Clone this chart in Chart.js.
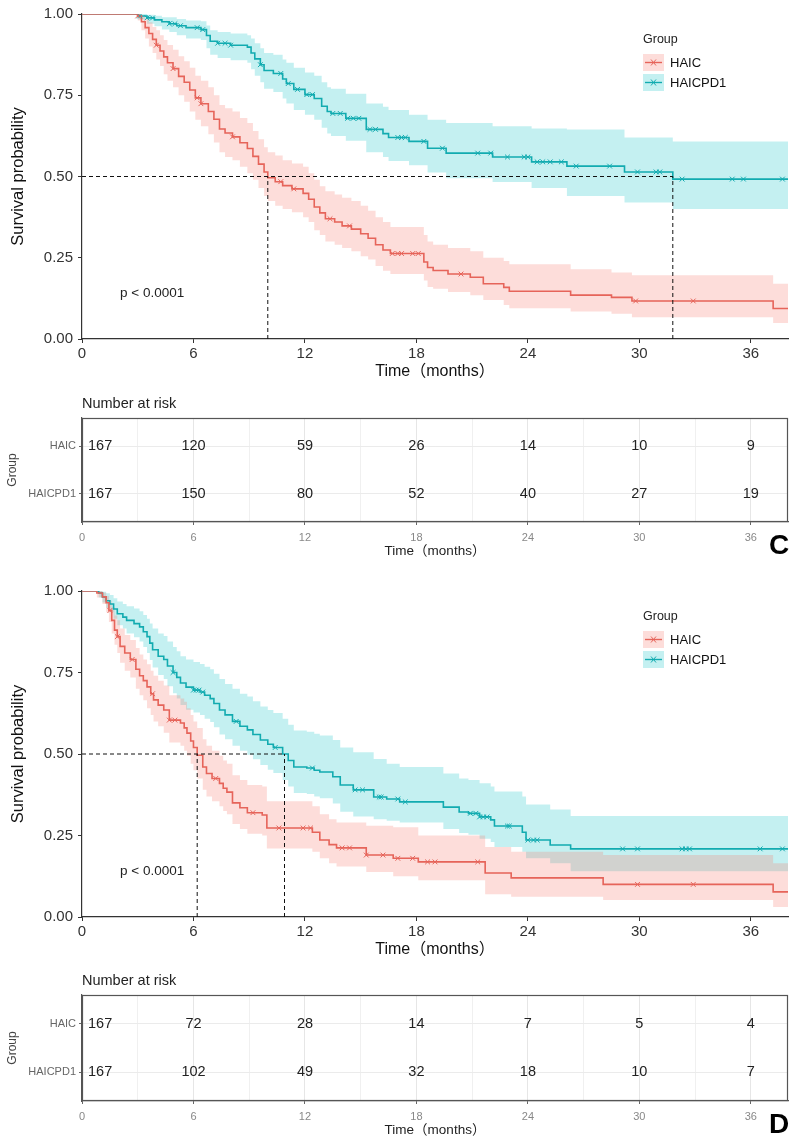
<!DOCTYPE html>
<html><head><meta charset="utf-8">
<script src="https://cdn.jsdelivr.net/npm/chart.js@4.4.1/dist/chart.umd.min.js"></script>
<style>
html,body{margin:0;padding:0;background:#fff;}
#wrap{position:relative;width:797px;height:1144px;overflow:hidden;background:#fff;}
.pane{position:absolute;left:0;width:797px;}
canvas{display:block;}
</style></head><body>
<div id="wrap">
 <div class="pane" style="top:0;height:385px"><canvas id="kmC" width="797" height="385"></canvas></div>
 <div class="pane" style="top:385px;height:180px"><canvas id="rtC" width="797" height="180"></canvas></div>
 <div class="pane" style="top:565px;height:400px"><canvas id="kmD" width="797" height="400"></canvas></div>
 <div class="pane" style="top:965px;height:179px"><canvas id="rtD" width="797" height="179"></canvas></div>
</div>
<script>
// ---------- shared labels / ticks ----------
const groups = ['HAIC', 'HAICPD1'];
const xTicks = [0, 6, 12, 18, 24, 30, 36];
const xMinorTicks = [0, 3, 6, 9, 12, 15, 18, 21, 24, 27, 30, 33, 36];
const yTicks = [0, 0.25, 0.5, 0.75, 1];
const yTickLabels = ['0.00', '0.25', '0.50', '0.75', '1.00'];
const riskTimes = [0, 6, 12, 18, 24, 30, 36];
const pText = 'p < 0.0001';

// ---------- Panel C ----------
const C_HAIC_time  = [0, 3.0, 3.2, 3.4, 3.6, 3.8, 4.0, 4.2, 4.4, 4.6, 4.9, 5.2, 5.5, 5.8, 6.1, 6.4, 6.8, 7.1, 7.4, 7.7, 8.1, 8.5, 8.9, 9.2, 9.5, 9.8, 10.0, 10.4, 10.8, 11.3, 11.9, 12.2, 12.5, 12.8, 13.1, 13.6, 14.0, 14.5, 15.0, 15.4, 15.8, 16.2, 16.6, 18.4, 18.6, 18.9, 19.7, 20.9, 21.6, 22.7, 23.0, 26.3, 28.5, 29.6, 37.2, 38];
const C_HAIC_surv  = [1, .994, .976, .958, .94, .922, .904, .886, .868, .85, .832, .808, .79, .766, .742, .724, .70, .676, .646, .634, .622, .604, .586, .562, .538, .514, .496, .484, .472, .462, .448, .43, .406, .388, .37, .36, .348, .338, .324, .31, .29, .274, .263, .237, .22, .211, .20, .19, .17, .159, .147, .135, .128, .117, .094, .094];
const C_HAIC_lower = [1, .98, .95, .925, .90, .88, .86, .84, .815, .795, .775, .75, .73, .70, .675, .655, .63, .605, .575, .56, .55, .53, .51, .49, .465, .44, .425, .41, .40, .39, .375, .36, .335, .32, .30, .29, .28, .27, .255, .245, .225, .21, .20, .18, .16, .155, .145, .135, .12, .105, .095, .085, .078, .067, .049, .049];
const C_HAIC_upper = [1, 1, .995, .985, .975, .96, .95, .935, .92, .905, .89, .87, .855, .835, .81, .795, .775, .75, .72, .71, .70, .68, .665, .64, .615, .59, .575, .565, .55, .54, .53, .51, .49, .47, .455, .445, .435, .425, .41, .395, .375, .36, .345, .32, .30, .29, .28, .27, .25, .24, .23, .215, .205, .196, .17, .17];
const C_HAIC_censor = [3.0, 4.0, 4.9, 6.2, 6.4, 8.1, 10.7, 11.4, 13.35, 14.4, 16.7, 17.0, 17.2, 17.8, 18.1, 20.4, 29.8, 32.9];

const C_PD1_time  = [0, 3.0, 3.5, 3.9, 4.3, 4.7, 5.1, 5.6, 6.4, 6.7, 6.9, 7.3, 8.0, 8.9, 9.1, 9.3, 9.6, 9.8, 10.3, 10.8, 11.0, 11.4, 12.0, 12.5, 12.9, 13.2, 13.4, 14.2, 15.3, 16.2, 16.5, 17.6, 18.6, 19.6, 22.1, 24.2, 26.1, 29.2, 31.8, 38];
const C_PD1_surv  = [1, .994, .988, .982, .976, .97, .964, .958, .952, .934, .916, .91, .904, .898, .88, .862, .844, .826, .817, .80, .786, .768, .752, .74, .716, .70, .694, .679, .645, .632, .62, .608, .587, .572, .56, .545, .532, .514, .492, .492];
const C_PD1_lower = [1, .983, .97, .962, .952, .945, .935, .925, .92, .895, .875, .865, .858, .85, .83, .81, .79, .77, .76, .74, .725, .705, .69, .675, .65, .632, .625, .61, .575, .56, .548, .535, .512, .495, .483, .465, .44, .42, .40, .40];
const C_PD1_upper = [1, 1, .998, .995, .99, .99, .985, .98, .978, .965, .95, .945, .94, .935, .925, .91, .895, .88, .875, .86, .85, .835, .82, .81, .79, .775, .77, .755, .725, .715, .705, .69, .675, .665, .655, .648, .645, .62, .608, .608];
const C_PD1_censor = [3.1, 3.5, 3.8, 4.7, 5.0, 5.3, 6.2, 6.5, 7.3, 7.7, 8.0, 9.6, 10.7, 11.1, 11.6, 12.1, 12.4, 13.5, 13.9, 14.3, 14.6, 14.9, 15.5, 15.8, 17.0, 17.2, 17.4, 18.4, 19.4, 21.3, 22.0, 22.9, 23.8, 24.0, 24.5, 24.8, 25.2, 25.8, 26.6, 28.4, 29.9, 30.9, 31.1, 32.3, 35.0, 35.6, 37.7];
const C_medians = [10.0, 31.8];
const C_risk_HAIC = [167, 120, 59, 26, 14, 10, 9];
const C_risk_PD1  = [167, 150, 80, 52, 40, 27, 19];

// ---------- Panel D ----------
const D_HAIC_time  = [0, 0.8, 1.1, 1.3, 1.45, 1.6, 1.75, 1.9, 2.05, 2.3, 2.6, 2.9, 3.1, 3.3, 3.5, 3.7, 3.85, 4.1, 4.4, 4.7, 5.3, 5.5, 5.65, 5.85, 6.0, 6.2, 6.5, 6.7, 7.0, 7.4, 7.6, 7.8, 8.1, 8.5, 8.9, 9.7, 9.95, 12.4, 12.8, 13.3, 13.7, 15.3, 16.75, 18.1, 21.7, 23.1, 28.05, 37.2, 38];
const D_HAIC_surv  = [1, .994, .982, .964, .94, .91, .88, .86, .83, .81, .79, .76, .74, .725, .706, .685, .666, .65, .635, .604, .595, .58, .564, .54, .52, .496, .46, .44, .425, .41, .395, .383, .35, .335, .32, .313, .273, .26, .236, .222, .212, .19, .18, .169, .135, .12, .10, .077, .077];
const D_HAIC_lower = [1, .98, .96, .935, .905, .87, .835, .81, .78, .755, .735, .70, .68, .665, .64, .62, .60, .585, .565, .535, .525, .51, .495, .47, .45, .425, .39, .37, .355, .34, .325, .315, .285, .27, .255, .25, .21, .20, .18, .165, .155, .138, .125, .113, .07, .062, .052, .031, .031];
const D_HAIC_upper = [1, 1, .995, .985, .97, .95, .925, .91, .885, .865, .85, .825, .805, .79, .775, .755, .74, .725, .71, .68, .67, .66, .64, .62, .60, .58, .545, .525, .51, .495, .48, .47, .435, .42, .405, .40, .355, .34, .315, .30, .29, .28, .275, .25, .215, .20, .19, .165, .165];
const D_HAIC_censor = [1.5, 1.9, 2.7, 3.8, 4.7, 5.0, 7.2, 9.2, 10.6, 11.9, 12.3, 14.0, 14.4, 15.3, 16.2, 17.0, 17.8, 18.6, 19.0, 21.3, 29.9, 32.9];

const D_PD1_time  = [0, 0.9, 1.1, 1.3, 1.5, 1.7, 1.9, 2.2, 2.4, 2.8, 3.1, 3.3, 3.5, 3.65, 3.8, 4.1, 4.4, 4.6, 4.9, 5.1, 5.3, 5.6, 6.0, 6.35, 6.6, 6.9, 7.1, 7.4, 7.7, 8.1, 8.5, 8.9, 9.2, 9.6, 10.0, 10.3, 10.8, 11.1, 11.4, 12.1, 12.5, 12.8, 13.5, 13.9, 14.6, 15.7, 16.4, 17.1, 19.45, 20.3, 20.8, 21.4, 22.0, 22.2, 23.7, 23.9, 25.2, 26.3, 38];
const D_PD1_surv  = [1, .994, .982, .97, .96, .945, .93, .92, .91, .90, .89, .875, .86, .84, .82, .80, .79, .77, .75, .735, .718, .705, .696, .69, .68, .67, .655, .635, .62, .60, .585, .574, .56, .543, .53, .52, .50, .48, .46, .457, .45, .445, .43, .405, .39, .368, .362, .353, .337, .322, .318, .307, .298, .279, .26, .236, .221, .209, .209];
const D_PD1_lower = [1, .98, .965, .948, .935, .915, .895, .885, .87, .858, .845, .828, .81, .788, .765, .742, .73, .708, .686, .67, .65, .636, .627, .62, .608, .598, .582, .56, .545, .525, .51, .498, .484, .466, .452, .442, .42, .40, .38, .377, .37, .364, .348, .323, .308, .30, .295, .29, .27, .258, .252, .24, .23, .215, .20, .18, .165, .14, .14];
const D_PD1_upper = [1, 1, .998, .993, .988, .978, .968, .96, .953, .946, .938, .926, .915, .90, .885, .87, .862, .845, .828, .815, .80, .79, .782, .776, .768, .76, .746, .73, .715, .70, .685, .676, .662, .646, .635, .626, .608, .59, .572, .568, .562, .557, .543, .52, .505, .485, .47, .46, .44, .425, .42, .41, .40, .385, .37, .345, .33, .31, .31];
const D_PD1_censor = [4.9, 6.0, 6.15, 6.3, 6.5, 8.3, 10.4, 12.4, 14.7, 15.1, 16.0, 16.1, 17.0, 17.4, 20.9, 21.2, 21.4, 21.6, 21.8, 22.9, 23.0, 24.0, 24.3, 24.5, 29.1, 29.9, 32.3, 32.5, 32.7, 36.5, 37.7];
const D_medians = [6.2, 10.9];
const D_risk_HAIC = [167, 72, 28, 14, 7, 5, 4];
const D_risk_PD1  = [167, 102, 49, 32, 18, 10, 7];

// ---------- styling ----------
const FONT = "'Liberation Sans', Arial, 'Noto Sans CJK SC', sans-serif";
const NARROW = "'Liberation Sans Narrow', 'Liberation Sans', Arial, 'Noto Sans CJK SC', sans-serif";
const RED = '#E6645A', TEAL = '#12ABB0';
const RED_BAND = 'rgba(248,118,109,0.25)', TEAL_BAND = 'rgba(0,191,196,0.23)';
const AXIS = '#333333';

function pts(t, v) { return t.map((tt, i) => ({ x: tt, y: v[i] })); }
function stepAt(t, v, q) { let r = v[0]; for (let i = 0; i < t.length; i++) { if (t[i] <= q) r = v[i]; else break; } return r; }

function bandDs(t, v, color, isUpper) {
  return { data: pts(t, v), stepped: true, fill: isUpper ? '+1' : false, backgroundColor: color,
    borderColor: 'rgba(0,0,0,0)', borderWidth: 0, pointRadius: 0, order: 3 };
}
function lineDs(t, v, color) {
  return { data: pts(t, v), stepped: true, fill: false, borderColor: color, borderWidth: 1.6, pointRadius: 0, order: 2 };
}
function censDs(t, v, c, color) {
  return { data: c.map(q => ({ x: q, y: stepAt(t, v, q) })), showLine: false, pointStyle: 'crossRot',
    pointRadius: 3.4, pointBorderColor: color, borderColor: color, pointBorderWidth: 1, order: 1 };
}
function dashDs(data) {
  return { data: data, borderColor: '#111', borderWidth: 1, borderDash: [4, 3], pointRadius: 0, fill: false, order: 0 };
}

function kmDecor() {
  return { id: 'kmDecor', afterDraw(chart) {
    const { ctx, chartArea: a, scales: { x, y } } = chart;
    ctx.save();
    ctx.fillStyle = '#111';
    ctx.textBaseline = 'middle';
    ctx.save();
    ctx.translate(18, (a.top + a.bottom) / 2);
    ctx.rotate(-Math.PI / 2);
    ctx.textAlign = 'center';
    ctx.font = '16.5px ' + FONT;
    ctx.fillText('Survival probability', 0, 0);
    ctx.restore();
    ctx.textAlign = 'center';
    ctx.font = '16px ' + FONT;
    ctx.fillText('Time（months）', (a.left + a.right) / 2, a.bottom + 33);
    ctx.textAlign = 'left';
    ctx.font = '13.5px ' + FONT;
    ctx.fillStyle = '#222';
    ctx.fillText(pText, x.getPixelForValue(2.05), y.getPixelForValue(0.14));
    const lx = 643, top = a.top;
    ctx.font = '12.5px ' + FONT;
    ctx.fillStyle = '#222';
    ctx.fillText('Group', lx, top + 26);
    const keys = [[groups[0], RED, RED_BAND], [groups[1], TEAL, TEAL_BAND]];
    keys.forEach((k, i) => {
      const ky = top + 40 + i * 20;
      ctx.fillStyle = k[2];
      ctx.fillRect(lx, ky, 21, 17);
      ctx.strokeStyle = k[1];
      ctx.lineWidth = 1.4;
      ctx.beginPath(); ctx.moveTo(lx + 2, ky + 8.5); ctx.lineTo(lx + 19, ky + 8.5); ctx.stroke();
      ctx.lineWidth = 1;
      ctx.beginPath();
      ctx.moveTo(lx + 8, ky + 5.5); ctx.lineTo(lx + 13, ky + 11.5);
      ctx.moveTo(lx + 13, ky + 5.5); ctx.lineTo(lx + 8, ky + 11.5);
      ctx.stroke();
      ctx.fillStyle = '#111';
      ctx.font = '13px ' + FONT;
      ctx.fillText(k[0], lx + 27, ky + 9);
    });
    ctx.restore();
  } };
}

function makeKM(id, P, topPad, xH) {
  const ds = [
    bandDs(P.ht, P.hu, RED_BAND, true), bandDs(P.ht, P.hl, RED_BAND, false),
    bandDs(P.pt, P.pu, TEAL_BAND, true), bandDs(P.pt, P.pl, TEAL_BAND, false),
    lineDs(P.ht, P.hs, RED), lineDs(P.pt, P.ps, TEAL),
    censDs(P.ht, P.hs, P.hc, RED), censDs(P.pt, P.ps, P.pc, TEAL),
    dashDs([{ x: 0, y: 0.5 }, { x: Math.max(...P.med), y: 0.5 }])
  ];
  P.med.forEach(m => ds.push(dashDs([{ x: m, y: 0 }, { x: m, y: 0.5 }])));
  new Chart(document.getElementById(id), {
    type: 'line',
    data: { datasets: ds },
    options: {
      responsive: false, animation: false, events: [],
      layout: { padding: { left: 0, right: 9, top: topPad, bottom: 0 } },
      plugins: { legend: { display: false }, tooltip: { enabled: false } },
      scales: {
        x: { type: 'linear', min: 0, max: 38,
          afterBuildTicks: s => { s.ticks = xTicks.map(v => ({ value: v })); },
          afterFit: s => { s.height = xH; },
          grid: { display: true, drawOnChartArea: false, drawTicks: true, tickLength: 4, color: AXIS, tickWidth: 1 },
          border: { display: true, color: AXIS, width: 1.2 },
          ticks: { font: { family: FONT, size: 15 }, color: '#333', padding: 2, maxRotation: 0, autoSkip: false } },
        y: { type: 'linear', min: 0, max: 1,
          afterBuildTicks: s => { s.ticks = yTicks.map(v => ({ value: v })); },
          afterFit: s => { s.width = 82; },
          grid: { display: true, drawOnChartArea: false, drawTicks: true, tickLength: 4, color: AXIS, tickWidth: 1 },
          border: { display: true, color: AXIS, width: 1.2 },
          ticks: { font: { family: FONT, size: 15 }, color: '#333', padding: 5, autoSkip: false,
            callback: (v, i) => yTickLabels[i] } }
      }
    },
    plugins: [kmDecor()]
  });
}

function rtDecor(letter) {
  return { id: 'rtDecor', afterDraw(chart) {
    const { ctx, chartArea: a } = chart;
    ctx.save();
    ctx.strokeStyle = '#555';
    ctx.lineWidth = 1.2;
    ctx.strokeRect(a.left + 0.5, a.top + 0.5, a.width - 1, a.height - 1);
    ctx.fillStyle = '#222';
    ctx.textBaseline = 'middle';
    ctx.font = '14.5px ' + NARROW;
    chart.data.datasets.forEach((d, di) => {
      const meta = chart.getDatasetMeta(di);
      meta.data.forEach((pt, i) => {
        ctx.textAlign = i === 0 ? 'left' : 'center';
        ctx.fillText(String(d.data[i].n), i === 0 ? pt.x + 6 : pt.x, pt.y);
      });
    });
    ctx.textAlign = 'left';
    ctx.font = '14.5px ' + NARROW;
    ctx.fillText('Number at risk', a.left, a.top - 14);
    ctx.textAlign = 'center';
    ctx.font = '13.5px ' + NARROW;
    ctx.fillText('Time（months）', (a.left + a.right) / 2, a.bottom + 29);
    ctx.save();
    ctx.translate(13, (a.top + a.bottom) / 2);
    ctx.rotate(-Math.PI / 2);
    ctx.fillStyle = '#444';
    ctx.font = '12px ' + FONT;
    ctx.fillText('Group', 0, 0);
    ctx.restore();
    ctx.fillStyle = '#000';
    ctx.font = 'bold 28px ' + FONT;
    ctx.fillText(letter, 779, a.bottom + 24);
    ctx.restore();
  } };
}

function makeRT(id, haic, pd1, letter, topPad, xH) {
  const mk = (arr, row) => riskTimes.map((t, i) => ({ x: t, y: row, n: arr[i] }));
  new Chart(document.getElementById(id), {
    type: 'scatter',
    data: { datasets: [
      { data: mk(haic, 2), pointRadius: 0 },
      { data: mk(pd1, 1), pointRadius: 0 }
    ] },
    options: {
      responsive: false, animation: false, events: [],
      layout: { padding: { left: 0, right: 9, top: topPad, bottom: 0 } },
      plugins: { legend: { display: false }, tooltip: { enabled: false } },
      scales: {
        x: { type: 'linear', min: 0, max: 38,
          afterBuildTicks: s => { s.ticks = xMinorTicks.map(v => ({ value: v })); },
          afterFit: s => { s.height = xH; },
          grid: { display: true, drawOnChartArea: true, drawTicks: true, tickLength: 3,
            color: c => (c.tick && c.tick.value % 6 === 0) ? '#E6E6E6' : '#F0F0F0',
            tickColor: c => (c.tick && c.tick.value % 6 === 0) ? '#666' : 'rgba(0,0,0,0)' },
          border: { display: true, color: '#555', width: 1.2 },
          ticks: { font: { family: NARROW, size: 11 }, color: '#888', padding: 6, maxRotation: 0, autoSkip: false,
            callback: v => (v % 6 === 0 ? String(v) : '') } },
        y: { type: 'linear', min: 0.4, max: 2.6,
          afterBuildTicks: s => { s.ticks = [{ value: 1 }, { value: 2 }]; },
          afterFit: s => { s.width = 82; },
          grid: { display: true, drawOnChartArea: true, drawTicks: true, tickLength: 3, color: '#EBEBEB', tickColor: '#666' },
          border: { display: true, color: '#555', width: 1.2 },
          ticks: { font: { family: NARROW, size: 11 }, color: '#666', padding: 3, autoSkip: false,
            callback: v => (v === 2 ? groups[0] : groups[1]) } }
      }
    },
    plugins: [rtDecor(letter)]
  });
}

makeKM('kmC', { ht: C_HAIC_time, hs: C_HAIC_surv, hl: C_HAIC_lower, hu: C_HAIC_upper, hc: C_HAIC_censor,
  pt: C_PD1_time, ps: C_PD1_surv, pl: C_PD1_lower, pu: C_PD1_upper, pc: C_PD1_censor, med: C_medians }, 12, 46);
makeRT('rtC', C_risk_HAIC, C_risk_PD1, 'C', 33, 43);
makeKM('kmD', { ht: D_HAIC_time, hs: D_HAIC_surv, hl: D_HAIC_lower, hu: D_HAIC_upper, hc: D_HAIC_censor,
  pt: D_PD1_time, ps: D_PD1_surv, pl: D_PD1_lower, pu: D_PD1_upper, pc: D_PD1_censor, med: D_medians }, 26, 48);
makeRT('rtD', D_risk_HAIC, D_risk_PD1, 'D', 30, 43);
</script>
</body></html>
